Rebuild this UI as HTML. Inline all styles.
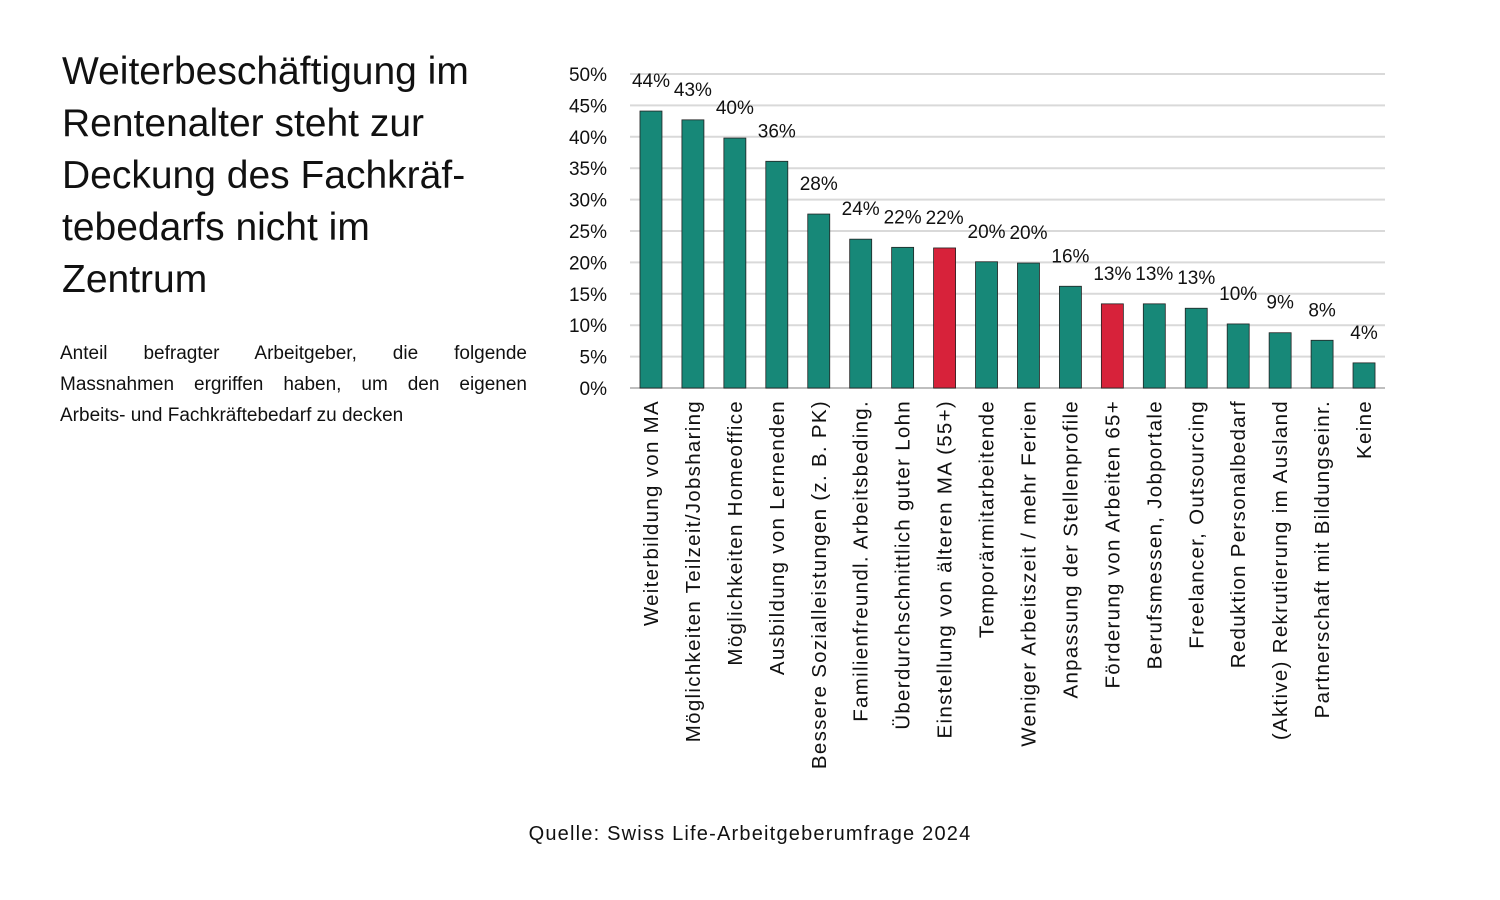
<!DOCTYPE html>
<html><head><meta charset="utf-8"><style>
body{margin:0;width:1500px;height:900px;background:#fff;font-family:"Liberation Sans",sans-serif;color:#111;overflow:hidden;position:relative}
#title{position:absolute;left:62px;top:46px;width:470px;font-size:39px;line-height:52px;font-weight:normal;margin:0;white-space:nowrap}
#sub{position:absolute;left:60px;top:338px;width:467px;font-size:19px;line-height:31px}
#sub div{white-space:nowrap}
#sub .j{text-align:justify;text-align-last:justify;white-space:normal}
#src{position:absolute;left:0;width:1500px;top:823px;text-align:center;font-size:20px;letter-spacing:1.2px}
svg{position:absolute;left:0;top:0}
</style></head><body>
<h1 id="title">Weiterbeschäftigung im<br>Rentenalter steht zur<br>Deckung des Fachkräf-<br>tebedarfs nicht im<br>Zentrum</h1>
<div id="sub"><div class="j">Anteil befragter Arbeitgeber, die folgende</div><div class="j">Massnahmen ergriffen haben, um den eigenen</div><div>Arbeits- und Fachkräftebedarf zu decken</div></div>
<div id="src">Quelle: Swiss Life-Arbeitgeberumfrage 2024</div>
<svg id="chart" width="1500" height="900"></svg>
<script>
const categories=["Weiterbildung von MA","Möglichkeiten Teilzeit/Jobsharing","Möglichkeiten Homeoffice","Ausbildung von Lernenden","Bessere Sozialleistungen (z. B. PK)","Familienfreundl. Arbeitsbeding.","Überdurchschnittlich guter Lohn","Einstellung von älteren MA (55+)","Temporärmitarbeitende","Weniger Arbeitszeit / mehr Ferien","Anpassung der Stellenprofile","Förderung von Arbeiten 65+","Berufsmessen, Jobportale","Freelancer, Outsourcing","Reduktion Personalbedarf","(Aktive) Rekrutierung im Ausland","Partnerschaft mit Bildungseinr.","Keine"];
const values=[44.1,42.7,39.8,36.1,27.7,23.7,22.4,22.3,20.1,19.9,16.2,13.4,13.4,12.7,10.2,8.8,7.6,4.0];
const valueLabels=["44%","43%","40%","36%","28%","24%","22%","22%","20%","20%","16%","13%","13%","13%","10%","9%","8%","4%"];
const highlighted=[7,11];
const ticks=[0,5,10,15,20,25,30,35,40,45,50];
const NS="http://www.w3.org/2000/svg",svg=document.getElementById('chart');
const x0=630,x1=1385,y0=388,y1=74,maxV=50;
const y=v=>y0-(v/maxV)*(y0-y1);
const step=(x1-x0)/categories.length;
const xc=i=>x0+step*(i+0.5);
function mk(t,a){const e=document.createElementNS(NS,t);for(const k in a)e.setAttribute(k,a[k]);svg.appendChild(e);return e;}
ticks.forEach(t=>{
 if(t>0){const l=mk('line',{x1:x0,x2:x1,y1:y(t),y2:y(t),stroke:'#d9d9d9','stroke-width':2});
 
 }
 const tx=mk('text',{x:607,y:y(t)+7,'text-anchor':'end','font-size':19,fill:'#111'});tx.textContent=t+'%';
 
 
});
const ax=mk('line',{x1:x0,x2:x1,y1:y0,y2:y0,stroke:'#bfbfbf','stroke-width':2});


categories.forEach((c,i)=>{
 const bw=22,hv=values[i];
 const r=mk('rect',{x:xc(i)-bw/2,y:y(hv),width:bw,height:y0-y(hv),fill:highlighted.includes(i)?'#d7223a':'#178878',stroke:'#222','stroke-width':0.8});
 
 
 const vl=mk('text',{x:xc(i),y:y(hv)-24,'text-anchor':'middle','font-size':19,fill:'#111'});vl.textContent=valueLabels[i];
 
 
 const cl=mk('text',{x:0,y:0,'text-anchor':'end','font-size':20.5,'letter-spacing':1.3,fill:'#111',transform:`translate(${xc(i)+7},400) rotate(-90)`});cl.textContent=c;
 
 
});
</script>
</body></html>
